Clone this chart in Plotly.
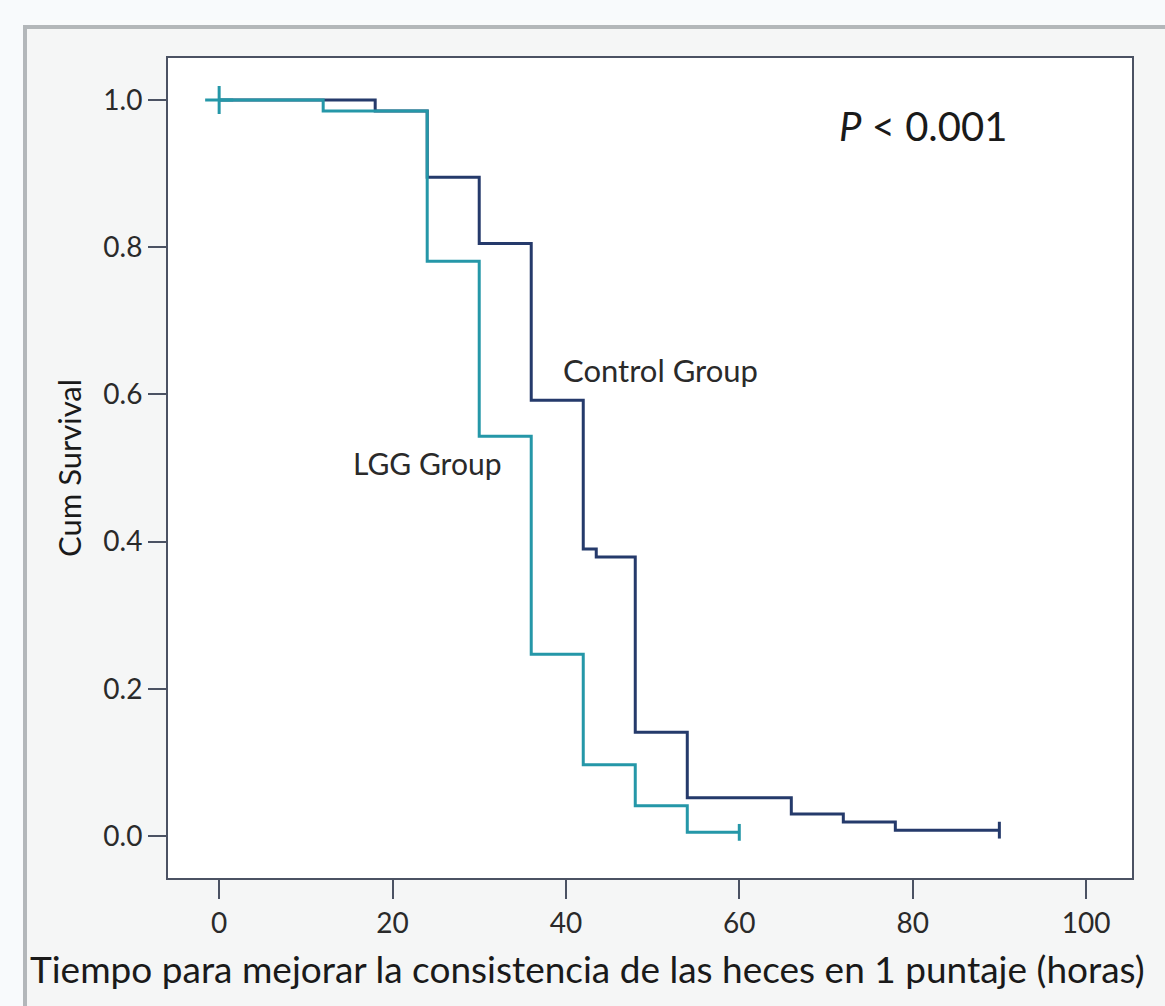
import plotly.graph_objects as go

# Kaplan-Meier step data
ctrl_t = [0, 18, 24, 30, 36, 42, 43.5, 48, 54, 66, 72, 78, 90]
ctrl_s = [1.0, 0.985, 0.895, 0.805, 0.592, 0.39, 0.379, 0.141, 0.052, 0.030, 0.019, 0.008, 0.008]

lgg_t = [0, 12, 24, 30, 36, 42, 48, 54, 60]
lgg_s = [1.0, 0.985, 0.781, 0.543, 0.247, 0.097, 0.041, 0.005, 0.005]

x_ticks = [0, 20, 40, 60, 80, 100]
y_ticks = [0.0, 0.2, 0.4, 0.6, 0.8, 1.0]
y_ticklabels = ["0.0", "0.2", "0.4", "0.6", "0.8", "1.0"]

x_title = "Tiempo para mejorar la consistencia de las heces en 1 puntaje (horas)"
y_title = "Cum Survival"

ctrl_color = "#253a6b"
lgg_color = "#2597a8"
font_family = "Lato, 'Open Sans', sans-serif"

W, H = 1165, 1006
L, R, T, B = 168, 33, 58, 128

def px_x(p):
    return (p - L) / (W - L - R)

def px_y(p):
    return (H - B - p) / (H - T - B)

fig = go.Figure()

fig.add_trace(go.Scatter(
    x=ctrl_t, y=ctrl_s, mode="lines", line=dict(shape="hv", color=ctrl_color, width=3),
    showlegend=False, hoverinfo="skip"))
fig.add_trace(go.Scatter(
    x=lgg_t, y=lgg_s, mode="lines", line=dict(shape="hv", color=lgg_color, width=3),
    showlegend=False, hoverinfo="skip"))

# censor marks
fig.add_trace(go.Scatter(
    x=[ctrl_t[-1]], y=[ctrl_s[-1]], mode="markers",
    marker=dict(symbol="line-ns", size=12, line=dict(color=ctrl_color, width=3)),
    showlegend=False, hoverinfo="skip"))
fig.add_trace(go.Scatter(
    x=[lgg_t[-1]], y=[lgg_s[-1]], mode="markers",
    marker=dict(symbol="line-ns", size=12, line=dict(color=lgg_color, width=3)),
    showlegend=False, hoverinfo="skip"))
fig.add_trace(go.Scatter(
    x=[lgg_t[0]], y=[lgg_s[0]], mode="markers",
    marker=dict(symbol="cross-thin", size=20, line=dict(color=lgg_color, width=3)),
    showlegend=False, hoverinfo="skip"))

# page band above the panel and panel border (shadow)
fig.add_shape(type="rect", xref="paper", yref="paper",
              x0=px_x(-50), x1=px_x(1250), y0=px_y(27), y1=px_y(-50),
              line=dict(width=0), fillcolor="#f8fafc", layer="below")
fig.add_shape(type="rect", xref="paper", yref="paper",
              x0=px_x(-50), x1=px_x(25), y0=px_y(1100), y1=px_y(27),
              line=dict(width=0), fillcolor="#f8fafc", layer="below")
fig.add_shape(type="rect", xref="paper", yref="paper",
              x0=px_x(25), x1=px_x(1200), y0=px_y(1100), y1=px_y(27),
              line=dict(color="#b3b7ba", width=4), fillcolor="rgba(0,0,0,0)", layer="below")

fig.add_annotation(x=px_x(923), y=px_y(126), xref="paper", yref="paper",
                   text="<i>P</i> < 0.001", showarrow=False,
                   font=dict(family=font_family, size=40, color="#1a1a1a"),
                   xanchor="center", yanchor="middle")
fig.add_annotation(x=px_x(660), y=px_y(370), xref="paper", yref="paper",
                   text="Control Group", showarrow=False,
                   font=dict(family=font_family, size=31, color="#2a2a2a"),
                   xanchor="center", yanchor="middle")
fig.add_annotation(x=px_x(427), y=px_y(463), xref="paper", yref="paper",
                   text="LGG Group", showarrow=False,
                   font=dict(family=font_family, size=30, color="#2a2a2a"),
                   xanchor="center", yanchor="middle")
fig.add_annotation(x=px_x(587), y=px_y(968), xref="paper", yref="paper",
                   text=x_title, showarrow=False,
                   font=dict(family=font_family, size=37, color="#1a1a1a"),
                   xanchor="center", yanchor="middle")

axis_line = "#4b5263"
fig.update_xaxes(
    range=[-5.9, 105.3], tickvals=x_ticks, ticktext=[str(v) for v in x_ticks],
    ticks="outside", ticklen=19, tickwidth=2, tickcolor=axis_line,
    showline=True, linecolor=axis_line, linewidth=2, mirror=True,
    showgrid=False, zeroline=False,
    tickfont=dict(family=font_family, size=28, color="#2a2a2a"),
)
fig.update_yaxes(
    range=[-0.057, 1.057], tickvals=y_ticks, ticktext=y_ticklabels,
    ticks="outside", ticklen=18, tickwidth=2, tickcolor=axis_line,
    showline=True, linecolor=axis_line, linewidth=2, mirror=True,
    showgrid=False, zeroline=False,
    tickfont=dict(family=font_family, size=28, color="#2a2a2a"),
    title=dict(text=y_title, font=dict(family=font_family, size=31, color="#1a1a1a"),
               standoff=12),
)

fig.update_layout(
    width=W, height=H,
    margin=dict(l=L, r=R, t=T, b=B, autoexpand=False),
    paper_bgcolor="#f5f6f6", plot_bgcolor="#ffffff",
)

fig.write_html("out.html")
